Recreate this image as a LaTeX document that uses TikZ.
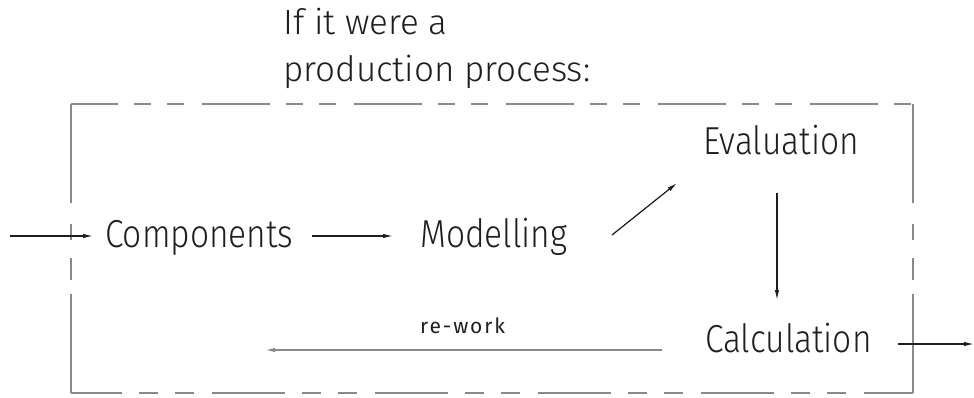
\documentclass[tikz,border=0pt]{standalone}
\usepackage{fontspec}
\setmainfont{Fira Sans}[UprightFont=* Light, FakeStretch=0.86]
\newfontfamily\hdrfont{Fira Sans}[UprightFont=* Light]
\newfontfamily\smallfont{Fira Sans}[LetterSpace=9]
\usetikzlibrary{arrows.meta}
\definecolor{boxgrey}{HTML}{8A8A8A}
\definecolor{inkc}{HTML}{1E1E1E}
\tikzset{
  lbl/.style={anchor=base west,inner sep=0pt,text=inkc,font=\fontsize{39}{44}\selectfont},
  hdr/.style={anchor=base west,inner sep=0pt,text=inkc,font=\hdrfont\fontsize{35}{47}\selectfont},
  small/.style={anchor=base west,inner sep=0pt,text=inkc,font=\smallfont\fontsize{21}{24}\selectfont},
  arr/.style={draw=inkc,line width=1.2pt,-{Latex[length=10pt,width=4.5pt]}},
  garr/.style={draw=boxgrey,line width=1.5pt,-{Latex[length=10pt,width=4.5pt]}},
  edge/.style={draw=boxgrey,line width=1.5pt}
}
\begin{document}
\begin{tikzpicture}[x=1pt,y=-1pt]
\useasboundingbox (0,0) rectangle (974,398);
% dashed frame
\coordinate (tl) at (71,104);
\coordinate (tr) at (913,104);
\coordinate (bl) at (71,393);
\coordinate (br) at (913,393);
\draw[edge,dash pattern=on 68pt off 16pt on 17pt off 16pt on 17pt off 18pt,dash phase=21pt] (tl) -- (tr);
\draw[edge,dash pattern=on 73pt off 17pt on 19pt off 17pt on 19pt off 18pt,dash phase=22pt] (bl) -- (br);
\draw[edge,dash pattern=on 99pt off 21pt on 16pt off 18pt on 22pt off 14pt on 110pt] (tl) -- (bl);
\draw[edge,dash pattern=on 99pt off 21pt on 16pt off 18pt on 22pt off 14pt on 110pt] (tr) -- (br);
% texts
\node[hdr] (head1) at (283,35) {If it were a};
\node[hdr] (head2) at (283,82) {production process:};
\node[lbl] (comp) at (105,247) {Components};
\node[lbl] (mod) at (420,247) {Modelling};
\node[lbl] (eval) at (703,155) {Evaluation};
\node[lbl] (calc) at (705,352) {Calculation};
\node[small] (rw) at (420,333) {re-work};
% connectors
\coordinate (in) at (10,236);
\coordinate (out) at (974,344);
\coordinate (back) at (265,350);
\draw[arr] (in) -- ([xshift=-12pt]in -| comp.west);
\draw[arr] ([xshift=207pt]comp.west |- in) -- ([xshift=-27pt]mod.west |- in);
\draw[arr] ([xshift=192pt,yshift=12pt]mod.base west) -- ([xshift=-26pt,yshift=-28pt]eval.base west);
\draw[arr] ([xshift=74pt,yshift=-38pt]eval.base west) -- ([xshift=72pt,yshift=52pt]calc.base west);
\draw[arr] ([xshift=193pt,yshift=8pt]calc.base west) -- (out);
\draw[garr] ([xshift=-43pt]calc.west |- back) -- (back);
\end{tikzpicture}
\end{document}
